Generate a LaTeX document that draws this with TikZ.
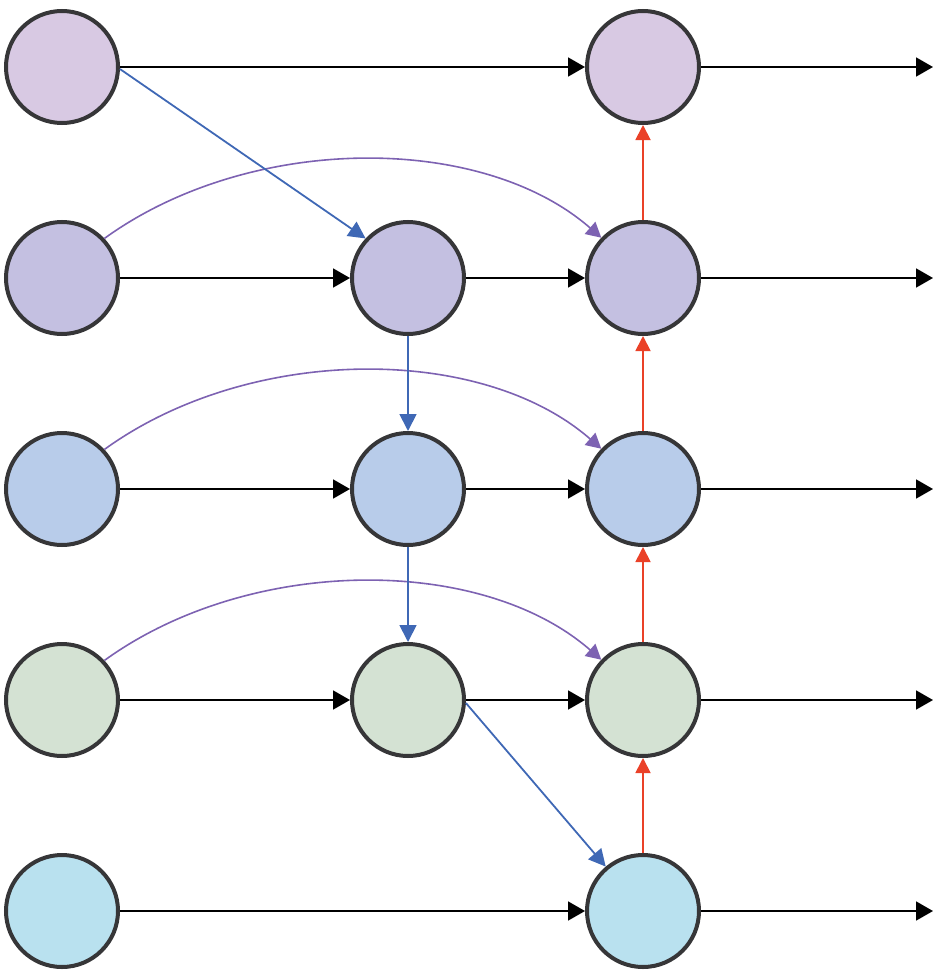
\documentclass[tikz,border=0pt]{standalone}
\usetikzlibrary{arrows.meta}
\definecolor{rowA}{HTML}{D8C9E3}
\definecolor{rowB}{HTML}{C4C0E1}
\definecolor{rowC}{HTML}{B8CCEA}
\definecolor{rowD}{HTML}{D4E2D3}
\definecolor{rowE}{HTML}{B9E1EF}
\definecolor{rim}{HTML}{363638}
\definecolor{bluel}{HTML}{3F68B5}
\definecolor{redl}{HTML}{EA4128}
\definecolor{purl}{HTML}{7D62B2}
\tikzset{
  cell/.style={circle, draw=rim, line width=4pt, minimum size=112pt, inner sep=0pt},
  flow/.style={line width=1.8pt, black, -{Triangle[length=17pt,width=19pt]}},
  bluearr/.style={line width=1.8pt, bluel, -{Triangle[length=17pt,width=17pt]}},
  redarr/.style={line width=1.8pt, redl, -{Triangle[length=15pt,width=15pt]}},
  purarr/.style={line width=1.6pt, purl, -{Triangle[length=15pt,width=16pt]}}
}
\begin{document}
\begin{tikzpicture}[x=1pt,y=-1pt]
\useasboundingbox (0,0) rectangle (942,971);
% nodes
\node[cell, fill=rowA] (a1) at (62,67) {};
\node[cell, fill=rowA] (c1) at (643,67) {};
\node[cell, fill=rowB] (a2) at (62,278) {};
\node[cell, fill=rowB] (b2) at (408,278) {};
\node[cell, fill=rowB] (c2) at (643,278) {};
\node[cell, fill=rowC] (a3) at (62,489) {};
\node[cell, fill=rowC] (b3) at (408,489) {};
\node[cell, fill=rowC] (c3) at (643,489) {};
\node[cell, fill=rowD] (a4) at (62,700) {};
\node[cell, fill=rowD] (b4) at (408,700) {};
\node[cell, fill=rowD] (c4) at (643,700) {};
\node[cell, fill=rowE] (a5) at (62,911) {};
\node[cell, fill=rowE] (c5) at (643,911) {};
% free ends
\coordinate (e1) at (933,67);
\coordinate (e2) at (933,278);
\coordinate (e3) at (933,489);
\coordinate (e4) at (933,700);
\coordinate (e5) at (933,911);
% black flows
\draw[flow] (a1) -- (c1);
\draw[flow] (c1) -- (e1);
\draw[flow] (a2) -- (b2);
\draw[flow] (b2) -- (c2);
\draw[flow] (c2) -- (e2);
\draw[flow] (a3) -- (b3);
\draw[flow] (b3) -- (c3);
\draw[flow] (c3) -- (e3);
\draw[flow] (a4) -- (b4);
\draw[flow] (b4) -- (c4);
\draw[flow] (c4) -- (e4);
\draw[flow] (a5) -- (c5);
\draw[flow] (c5) -- (e5);
% purple curves
\draw[purarr] (a2.43) .. controls +(145,-105) and +(-120,-105) .. (c2.136);
\draw[purarr] (a3.43) .. controls +(145,-105) and +(-120,-105) .. (c3.136);
\draw[purarr] (a4.43) .. controls +(145,-105) and +(-120,-105) .. (c4.136);
% blue
\draw[bluearr] (a1.-2) -- (b2.137);
\draw[bluearr] (b2.south) -- (b3.north);
\draw[bluearr] (b3.south) -- (b4.north);
\draw[bluearr] (b4.-3) -- (c5.130);
% red
\draw[redarr] (c5.north) -- (c4.south);
\draw[redarr] (c4.north) -- (c3.south);
\draw[redarr] (c3.north) -- (c2.south);
\draw[redarr] (c2.north) -- (c1.south);
\end{tikzpicture}
\end{document}
